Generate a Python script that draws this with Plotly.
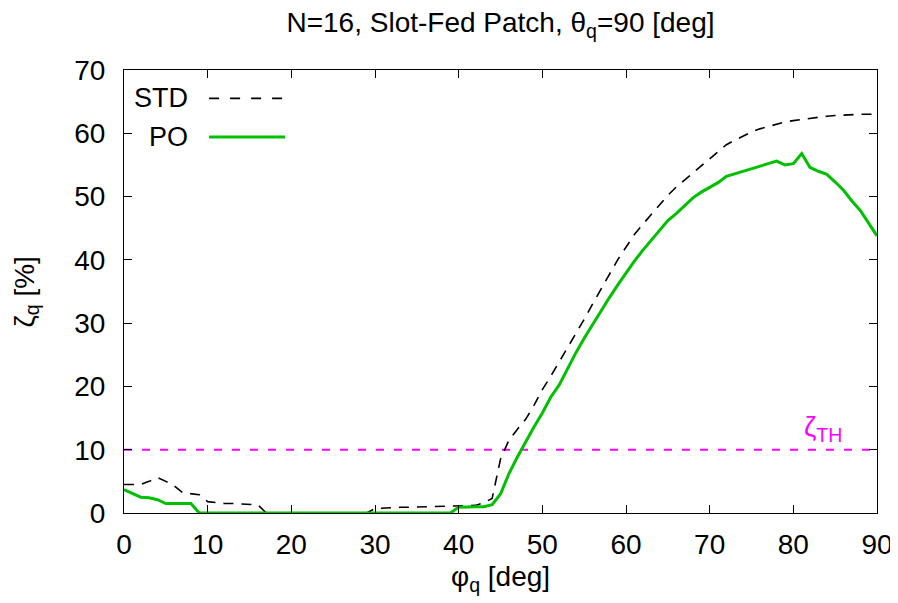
import plotly.graph_objects as go

# azimuth angle phi_q [deg], one sample per degree
phi = list(range(0, 91))

# STD curve (dashed black)
std = [
    4.5, 4.5, 4.5, 5.0, 5.6, 5.0, 4.3, 3.2, 3.0, 2.9,
    1.8, 1.6, 1.5, 1.5, 1.4, 1.4, 1.3, 0.0, 0.0, 0.0,
    0.0, 0.0, 0.0, 0.0, 0.0, 0.0, 0.0, 0.0, 0.0, 0.0,
    0.7, 0.8, 0.85, 0.9, 0.9, 0.95, 1.0, 1.0, 1.05, 1.1,
    1.1, 1.15, 1.2, 1.6, 2.3, 8.5, 11.5, 13.2, 14.8, 17.0,
    19.5, 21.6, 23.8, 26.0, 28.3, 30.6, 33.0, 35.3, 37.6, 40.0,
    42.0, 44.0, 45.6, 47.1, 48.6, 50.2, 51.5, 52.6, 53.7, 54.9,
    56.0, 57.0, 58.2, 58.9, 59.6, 60.2, 60.7, 61.1, 61.5, 61.8,
    62.0, 62.2, 62.4, 62.6, 62.7, 62.8, 62.9, 63.0, 63.0, 63.0,
    63.0,
]

# PO curve (solid green)
po = [
    3.7, 3.1, 2.5, 2.4, 2.1, 1.5, 1.5, 1.6, 1.5, 0.0,
    0.0, 0.0, 0.0, 0.0, 0.0, 0.0, 0.0, 0.0, 0.0, 0.0,
    0.0, 0.0, 0.0, 0.0, 0.0, 0.0, 0.0, 0.0, 0.0, 0.0,
    0.0, 0.0, 0.0, 0.0, 0.0, 0.0, 0.0, 0.0, 0.0, 0.0,
    0.9, 1.0, 1.0, 1.0, 1.3, 3.0, 6.2, 8.8, 11.3, 13.6,
    15.8, 18.3, 20.2, 22.8, 25.3, 27.6, 29.8, 31.9, 34.0, 36.0,
    38.0, 39.8, 41.5, 43.1, 44.6, 46.2, 47.3, 48.6, 49.8, 50.7,
    51.5, 52.2, 53.2, 53.6, 54.0, 54.4, 54.8, 55.2, 55.6, 55.0,
    55.2, 56.8, 54.6, 54.0, 53.5, 52.3, 51.0, 49.3, 47.8, 45.8,
    43.8,
]

threshold = 10
x_ticks = [0, 10, 20, 30, 40, 50, 60, 70, 80, 90]
y_ticks = [0, 10, 20, 30, 40, 50, 60, 70]

FONT = "Liberation Sans, Arial, sans-serif"
FS = 28
GREEN = "#00c000"
MAGENTA = "#ff00ff"

fig = go.Figure()

fig.add_trace(go.Scatter(
    x=[phi[0], phi[-1]], y=[threshold, threshold], mode="lines",
    line=dict(color=MAGENTA, width=2, dash="8px,10px"),
    showlegend=False, hoverinfo="skip"
))
fig.add_trace(go.Scatter(
    x=phi, y=std, mode="lines", name="STD",
    line=dict(color="black", width=1.6, dash="10px,8px"),
    showlegend=False
))
fig.add_trace(go.Scatter(
    x=phi, y=po, mode="lines", name="PO",
    line=dict(color=GREEN, width=3),
    showlegend=False
))

# gnuplot-style key: label on the left, sample on the right
key = [("STD", 0.936, dict(color="black", width=1.6, dash="10px,11px")),
       ("PO", 0.849, dict(color=GREEN, width=3))]
for label, ky, line in key:
    fig.add_annotation(x=0.088, y=ky, xref="paper", yref="paper",
                       text=label, showarrow=False, xanchor="right",
                       yanchor="middle", font=dict(size=27, color="black"))
    fig.add_shape(type="line", xref="paper", yref="paper",
                  x0=0.113, x1=0.214, y0=ky, y1=ky, line=line)

fig.add_annotation(x=83.5, y=13.3, text="ζ<sub>TH</sub>", showarrow=False,
                   font=dict(size=FS, color=MAGENTA))

# axis titles placed like gnuplot's
fig.add_annotation(x=0.5, y=-0.147, xref="paper", yref="paper",
                   text="φ<sub>q</sub> [deg]", showarrow=False,
                   yanchor="middle", font=dict(size=FS))
fig.add_annotation(x=-0.13, y=0.5, xref="paper", yref="paper",
                   text="ζ<sub>q</sub> [%]", showarrow=False, textangle=-90,
                   xanchor="center", yanchor="middle", font=dict(size=FS))

axis_common = dict(
    showline=True, linecolor="black", linewidth=1, mirror="ticks",
    ticks="inside", ticklen=8, tickcolor="black",
    showgrid=False, zeroline=False, automargin=False,
    tickfont=dict(size=FS, color="black"),
)

# the page body adds an 8px offset, so margins are shifted to compensate
fig.update_layout(
    width=898, height=603,
    margin=dict(l=116, r=29, t=62, b=98),
    paper_bgcolor="white", plot_bgcolor="white",
    font=dict(family=FONT, size=FS, color="black"),
    title=dict(text="N=16, Slot-Fed Patch, θ<sub>q</sub>=90 [deg]",
               x=0.5, xref="paper", xanchor="center",
               y=0.977, yanchor="middle", font=dict(size=FS)),
    xaxis=dict(range=[0, 90], tickvals=x_ticks, ticklabelstandoff=6,
               **axis_common),
    yaxis=dict(range=[0, 70], tickvals=y_ticks, ticklabelstandoff=12,
               **axis_common),
)

fig.write_html("out.html")
